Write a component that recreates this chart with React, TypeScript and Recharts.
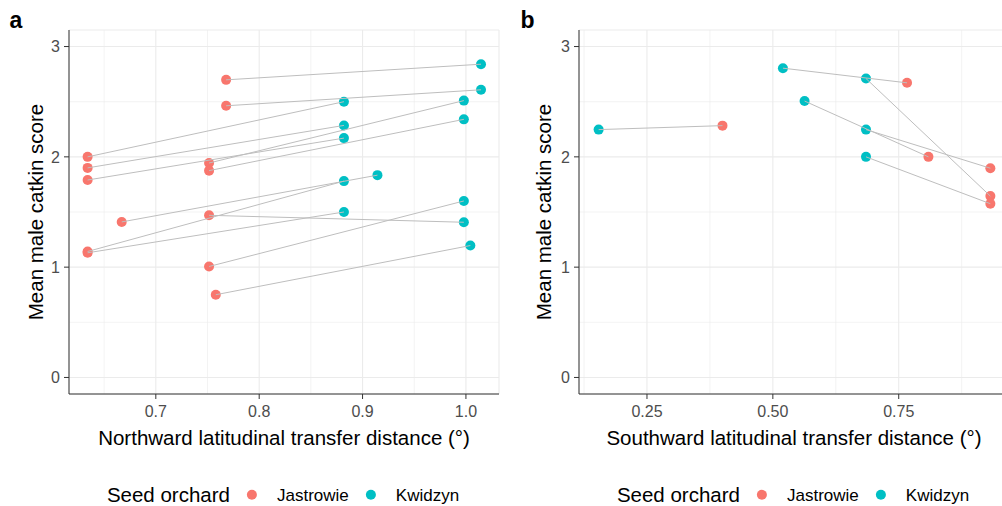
import React from 'react';
import { ScatterChart, Scatter, XAxis, YAxis, CartesianGrid, ReferenceLine } from 'recharts';

const RED = '#F8766D';
const TEAL = '#00BFC4';
const PAIR_LINE = '#BEBEBE';
const GRID = '#EBEBEB';
const BORDER = '#333333';
const FONT = '"Liberation Sans", Arial, sans-serif';

// panel a: northward transfer, pair i = same family in both orchards
const northJastX = [0.768, 0.768, 0.634, 0.634, 0.634, 0.7515, 0.7515, 0.667, 0.7515, 0.634, 0.634, 0.7515, 0.758];
const northJastY = [2.698, 2.463, 2.0, 1.9, 1.79, 1.944, 1.875, 1.41, 1.47, 1.142, 1.13, 1.006, 0.75];
const northKwidX = [1.0146, 1.0146, 0.882, 0.882, 0.882, 0.998, 0.998, 0.9144, 0.998, 0.882, 0.882, 0.998, 1.0043];
const northKwidY = [2.84, 2.608, 2.5, 2.285, 2.17, 2.51, 2.34, 1.834, 1.407, 1.78, 1.5, 1.6, 1.196];

// panel b: southward transfer
const southKwidX = [0.154, 0.52, 0.685, 0.563, 0.685, 0.685];
const southKwidY = [2.247, 2.804, 2.71, 2.506, 2.247, 2.0];
const southJastX = [0.4, 0.7665, 0.932, 0.809, 0.932, 0.932];
const southJastY = [2.283, 2.671, 1.644, 2.0, 1.897, 1.575];

const yTicks = [0, 1, 2, 3];
const yMinor = [0.5, 1.5, 2.5];
const northTicks = [0.7, 0.8, 0.9, 1.0];
const northMinor = [0.65, 0.75, 0.85, 0.95];
const southTicks = [0.25, 0.5, 0.75];
const southMinor = [0.125, 0.375, 0.625, 0.875];

const legendItems = [
  { name: 'Jastrowie', color: RED },
  { name: 'Kwidzyn', color: TEAL },
];

type Pt = { x: number; y: number };

const dot = (color: string) => (p: any) => <circle cx={p.cx} cy={p.cy} r={5} fill={color} />;
const noDot = () => <g />;

interface PanelProps {
  jastX: number[]; jastY: number[]; kwidX: number[]; kwidY: number[];
  domain: [number, number]; ticks: number[]; minor: number[]; digits: number;
  width: number; yWidth: number; right: number;
}

function Panel({ jastX, jastY, kwidX, kwidY, domain, ticks, minor, digits, width, yWidth, right }: PanelProps) {
  const jast: Pt[] = jastX.map((x, i) => ({ x, y: jastY[i] }));
  const kwid: Pt[] = kwidX.map((x, i) => ({ x, y: kwidY[i] }));
  const tickStyle = { fill: '#4D4D4D', fontSize: 16, fontFamily: FONT };
  return (
    <ScatterChart width={width} height={506} margin={{ top: 30, right, bottom: 82, left: 0 }}>
      <CartesianGrid stroke={GRID} strokeWidth={1.1} />
      {minor.map((v) => <ReferenceLine key={'mx' + v} x={v} stroke={GRID} strokeWidth={0.6} />)}
      {yMinor.map((v) => <ReferenceLine key={'my' + v} y={v} stroke={GRID} strokeWidth={0.6} />)}
      <XAxis type="number" dataKey="x" domain={domain} ticks={ticks} allowDataOverflow
        tickFormatter={(v: number) => v.toFixed(digits)} stroke={BORDER} tickSize={5} tickMargin={7}
        tick={tickStyle} height={30} />
      <YAxis type="number" dataKey="y" domain={[-0.15, 3.15]} ticks={yTicks} allowDataOverflow
        stroke={BORDER} tickSize={5} tickMargin={4} tick={tickStyle} width={yWidth} />
      <XAxis xAxisId="top" orientation="top" type="number" domain={domain} allowDataOverflow
        stroke={BORDER} tick={false} tickLine={false} height={0} />
      <YAxis yAxisId="right" orientation="right" type="number" domain={[-0.15, 3.15]} allowDataOverflow
        stroke={BORDER} tick={false} tickLine={false} width={0} />
      <Scatter data={jast} shape={dot(RED)} isAnimationActive={false} />
      <Scatter data={kwid} shape={dot(TEAL)} isAnimationActive={false} />
      {jast.map((p, i) => (
        <Scatter key={'pair' + i} data={[p, kwid[i]]} shape={noDot} isAnimationActive={false}
          line={{ stroke: PAIR_LINE, strokeWidth: 1 }} />
      ))}
    </ScatterChart>
  );
}

const abs = (left: number, top: number): React.CSSProperties => ({
  position: 'absolute', left, top, lineHeight: 1, whiteSpace: 'nowrap',
});

function Legend({ center }: { center: number }) {
  return (
    <div style={{ ...abs(center, 495), transform: 'translate(-50%, -50%)', display: 'flex', alignItems: 'center', fontFamily: FONT }}>
      <span style={{ fontSize: 20.5, color: '#000' }}>Seed orchard</span>
      {legendItems.map((d) => (
        <React.Fragment key={d.name}>
          <span style={{ width: 10, height: 10, borderRadius: 5, background: d.color, marginLeft: 17, display: 'inline-block' }} />
          <span style={{ fontSize: 17, color: '#000', marginLeft: 20 }}>{d.name}</span>
        </React.Fragment>
      ))}
    </div>
  );
}

export default function App() {
  const titleStyle: React.CSSProperties = { fontSize: 20.5, color: '#000', fontFamily: FONT };
  return (
    <div style={{ position: 'absolute', left: 0, top: 0, width: 1002, height: 506, overflow: 'hidden', background: '#fff' }}>
      <div style={{ position: 'absolute', left: 0, top: 0 }}>
        <Panel jastX={northJastX} jastY={northJastY} kwidX={northKwidX} kwidY={northKwidY}
          domain={[0.616, 1.032]} ticks={northTicks} minor={northMinor} digits={1}
          width={500} yWidth={69} right={1} />
      </div>
      <div style={{ position: 'absolute', left: 500, top: 0 }}>
        <Panel jastX={southJastX} jastY={southJastY} kwidX={southKwidX} kwidY={southKwidY}
          domain={[0.115, 0.971]} ticks={southTicks} minor={southMinor} digits={2}
          width={512} yWidth={79} right={2} />
      </div>

      <div style={{ ...abs(9.5, 8.5), fontSize: 23, fontWeight: 'bold', fontFamily: FONT }}>a</div>
      <div style={{ ...abs(520.5, 8.5), fontSize: 23, fontWeight: 'bold', fontFamily: FONT }}>b</div>

      <div style={{ ...abs(35.5, 212), ...titleStyle, transform: 'translate(-50%, -50%) rotate(-90deg)' }}>Mean male catkin score</div>
      <div style={{ ...abs(544, 212), ...titleStyle, transform: 'translate(-50%, -50%) rotate(-90deg)' }}>Mean male catkin score</div>

      <div style={{ ...abs(284, 437.5), ...titleStyle, transform: 'translate(-50%, -50%)' }}>Northward latitudinal transfer distance (°)</div>
      <div style={{ ...abs(794, 437.5), ...titleStyle, transform: 'translate(-50%, -50%)' }}>Southward latitudinal transfer distance (°)</div>

      <Legend center={283} />
      <Legend center={793} />
    </div>
  );
}
